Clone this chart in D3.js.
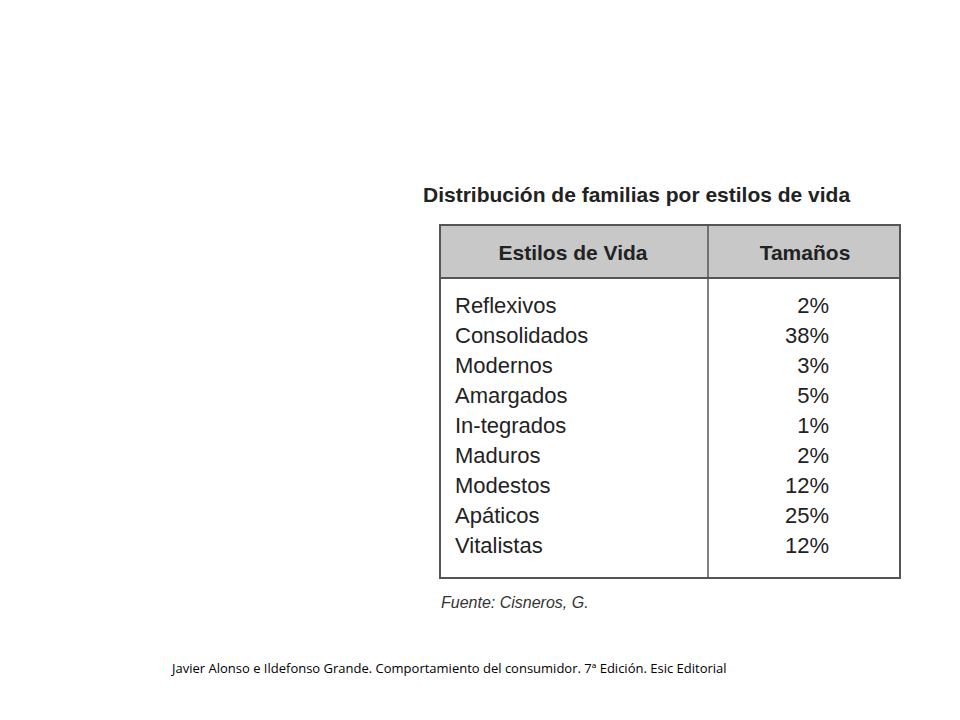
<!DOCTYPE html>
<html><head><meta charset="utf-8">
<script src="https://cdn.jsdelivr.net/npm/d3@7"></script>
<style>body{margin:0;background:#fff}</style></head>
<body><script>
const categories=["Reflexivos","Consolidados","Modernos","Amargados","In-tegrados","Maduros","Modestos","Apáticos","Vitalistas"];
const values=[2,38,3,5,1,2,12,25,12];
const headers=["Estilos de Vida","Tamaños"];
const svg=d3.select("body").append("svg").attr("width",960).attr("height",720);
const F="Liberation Sans, Arial, sans-serif";
svg.append("text").attr("x",423).attr("y",202).attr("font-family",F).attr("font-weight","bold").attr("font-size",21).attr("fill","#222").text("Distribución de familias por estilos de vida");
const x0=440,x1=900,xm=708,y0=225,yh=278,y1=578;
svg.append("rect").attr("x",x0).attr("y",y0).attr("width",x1-x0).attr("height",yh-y0).attr("fill","#c8c8c8");
svg.append("rect").attr("x",x0).attr("y",y0).attr("width",x1-x0).attr("height",y1-y0).attr("fill","none").attr("stroke","#555").attr("stroke-width",2);
svg.append("line").attr("x1",x0).attr("x2",x1).attr("y1",yh).attr("y2",yh).attr("stroke","#555").attr("stroke-width",2);
svg.append("line").attr("x1",xm).attr("x2",xm).attr("y1",y0).attr("y2",y1).attr("stroke","#555").attr("stroke-width",1.5);
[[573,headers[0]],[805,headers[1]]].forEach(([cx,t])=>svg.append("text").attr("x",cx).attr("y",260).attr("text-anchor","middle").attr("font-family",F).attr("font-weight","bold").attr("font-size",21).attr("fill","#222").text(t));
const y=d3.scaleBand().domain(categories).range([290,560]);
const g=svg.selectAll("g.row").data(categories).join("g");
g.append("text").attr("x",455).attr("y",d=>y(d)+y.bandwidth()/2+8).attr("font-family",F).attr("font-size",22).attr("fill","#222").text(d=>d);
g.append("text").attr("x",829).attr("y",d=>y(d)+y.bandwidth()/2+8).attr("text-anchor","end").attr("font-family",F).attr("font-size",22).attr("fill","#222").text((d,i)=>values[i]+"%");
svg.append("text").attr("x",441).attr("y",608).attr("font-family",F).attr("font-style","italic").attr("font-size",16).attr("fill","#333").text("Fuente: Cisneros, G.");
svg.append("text").attr("x",172).attr("y",673).attr("font-family","Open Sans, sans-serif").attr("font-size",13).attr("fill","#000").text("Javier Alonso e Ildefonso Grande. Comportamiento del consumidor. 7ª Edición. Esic Editorial");
</script></body></html>
